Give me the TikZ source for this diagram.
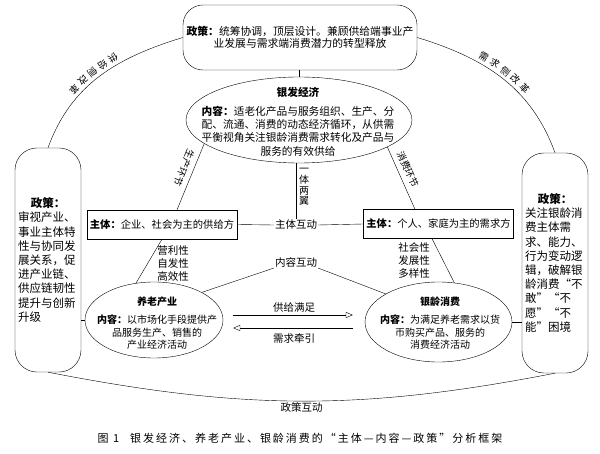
\documentclass[tikz,border=0pt]{standalone}
\usepackage{fontspec}
\setmainfont{Noto Sans CJK SC}
\usetikzlibrary{shapes.geometric,arrows.meta}

\begin{document}
\begin{tikzpicture}[x=1bp,y=1bp,
  policybox/.style={draw, rounded corners=20bp, align=center, inner sep=0pt},
  sidebox/.style={draw, rounded corners=22bp, minimum width=66bp, inner sep=0pt, text width=60bp, align=left, font=\fontsize{11.5bp}{14.2bp}\selectfont},
  ell/.style={draw, ellipse, inner sep=0pt},
  elltext/.style={align=center, inner sep=0pt, font=\fontsize{10.7bp}{13.3bp}\selectfont},
  subjbox/.style={draw, minimum width=150bp, minimum height=29bp, inner sep=2bp, font=\fontsize{10.3bp}{12bp}\selectfont},
  arclbl/.style={font=\fontsize{9.5bp}{9.5bp}\selectfont, inner sep=3bp, sloped, allow upside down},
  small/.style={font=\fontsize{10.5bp}{13bp}\selectfont, align=center, inner sep=1bp},
  flow/.style={-{Triangle[open,length=7bp,width=6bp]}}
]
\useasboundingbox (0,0) rectangle (600,-454);

% policy at the top
\node[policybox, minimum width=234bp, minimum height=65bp, font=\fontsize{10.8bp}{12.5bp}\selectfont] (policy) at (300,-37.5) {\textbf{政策：}统筹协调，顶层设计。兼顾供给端事业产\\业发展与需求端消费潜力的转型释放};

% the three ellipses
\node[ell, minimum width=226bp, minimum height=86bp] (silver) at (299,-120) {};
\node[elltext] (silvertxt) at (298,-121.5) {\textbf{银发经济}\\[5.5bp]\textbf{内容：}适老化产品与服务组织、生产、分\\配、流通、消费的动态经济循环，从供需\\平衡视角关注银龄消费需求转化及产品与\\服务的有效供给};
\node[ell, minimum width=138bp, minimum height=76bp] (industry) at (154,-320) {};
\node[elltext, font=\fontsize{10bp}{12.5bp}\selectfont] (industrytxt) at (157,-323.5) {\textbf{养老产业}\\[5.5bp]\textbf{内容：}以市场化手段提供产\\品服务生产、销售的\\产业经济活动};
\node[ell, minimum width=147bp, minimum height=80bp] (consume) at (438.5,-322) {};
\node[elltext, font=\fontsize{10bp}{12.5bp}\selectfont] (consumetxt) at (440,-323.5) {\textbf{银龄消费}\\[5.5bp]\textbf{内容：}为满足养老需求以货\\币购买产品、服务的\\消费经济活动};

% subjects
\node[subjbox] (supply) at (162,-224.5) {\textbf{主体：}企业、社会为主的供给方};
\node[subjbox] (demand) at (438.5,-224) {\textbf{主体：}个人、家庭为主的需求方};
\node[small] (subj) at (296,-225) {主体互动};
\node[small] (cont) at (296,-262) {内容互动};
\node[font=\fontsize{10bp}{10.7bp}\selectfont, align=center, inner sep=0pt] (wings) at (304,-187) {一\\体\\两\\翼};
\node[small] (lattr) at (173,-264) {营利性\\自发性\\高效性};
\node[small] (rattr) at (414,-261) {社会性\\发展性\\多样性};

% side policies
\node[sidebox, minimum height=224bp] (lpolicy) at (48,-260) {{\centering\textbf{政策：}\par}审视产业、\\事业主体特\\性与协同发\\展关系，促\\进产业链、\\供应链韧性\\提升与创新\\升级};
\node[sidebox, minimum height=220bp] (rpolicy) at (555,-263) {{\centering\textbf{政策：}\par}关注银龄消\\费主体需\\求、能力、\\行为变动逻\\辑，破解银\\龄消费“不\\敢”“不\\愿”“不\\能”困境};

% connectors
\draw (silver.north |- policy.south) -- (silver.north);
\draw (subj.north |- silver.south) -- (subj.north);
\draw (supply.east) -- (subj.west);
\draw (subj.east) -- (demand.west);
\draw (silver.194) -- node[arclbl, below, pos=.42, inner sep=5bp] (prodlbl) {生产环节} ([xshift=15bp]supply.north);
\draw (silver.-17) -- node[arclbl, above, pos=.42, inner sep=5bp] (conslbl) {消费环节} ([xshift=-23.5bp]demand.north);
\draw (supply.south) -- (industry.116);
\draw ([xshift=-6.5bp]demand.south) -- (consume.68);
\draw (cont.south west) -- (industry.30);
\draw (cont.south east) -- (consume.152);
\draw (industry.west) -- (industry.west -| lpolicy.east);
\draw (consume.east) -- (consume.east -| rpolicy.west);
\draw[flow, shorten <=10bp, shorten >=12bp] ([yshift=5bp]industry.east) -- node[small, above=1bp] (feed) {供给满足} ([yshift=5bp]industry.east -| consume.west);
\draw[flow, shorten <=12bp, shorten >=10bp] ([yshift=-8bp]industry.east -| consume.west) -- node[small, below=4bp] (pull) {需求牵引} ([yshift=-8bp]industry.east);

% arcs
\draw (policy.west) to[out=197,in=70]
  node[arclbl, pos=.38, below] (l1) {供} node[arclbl, pos=.45, below] (l2) {给}
  node[arclbl, pos=.52, below] (l3) {侧} node[arclbl, pos=.59, below] (l4) {改}
  node[arclbl, pos=.66, below] (l5) {革} (lpolicy.north);
\draw (policy.east) to[out=-17,in=110]
  node[arclbl, pos=.35, above] (r1) {需} node[arclbl, pos=.42, above] (r2) {求}
  node[arclbl, pos=.49, above] (r3) {侧} node[arclbl, pos=.56, above] (r4) {改}
  node[arclbl, pos=.63, above] (r5) {革} (rpolicy.north);
\draw (lpolicy.south) to[out=-11,in=191] node[small, pos=.5, below] (pint) {政策互动} (rpolicy.south);

% caption
\node[font=\fontsize{11bp}{13bp}\selectfont\addfontfeature{LetterSpace=18}] (cap) at (300,-438) {图 1\quad 银发经济、养老产业、银龄消费的“主体—内容—政策”分析框架};
\end{tikzpicture}
\end{document}
